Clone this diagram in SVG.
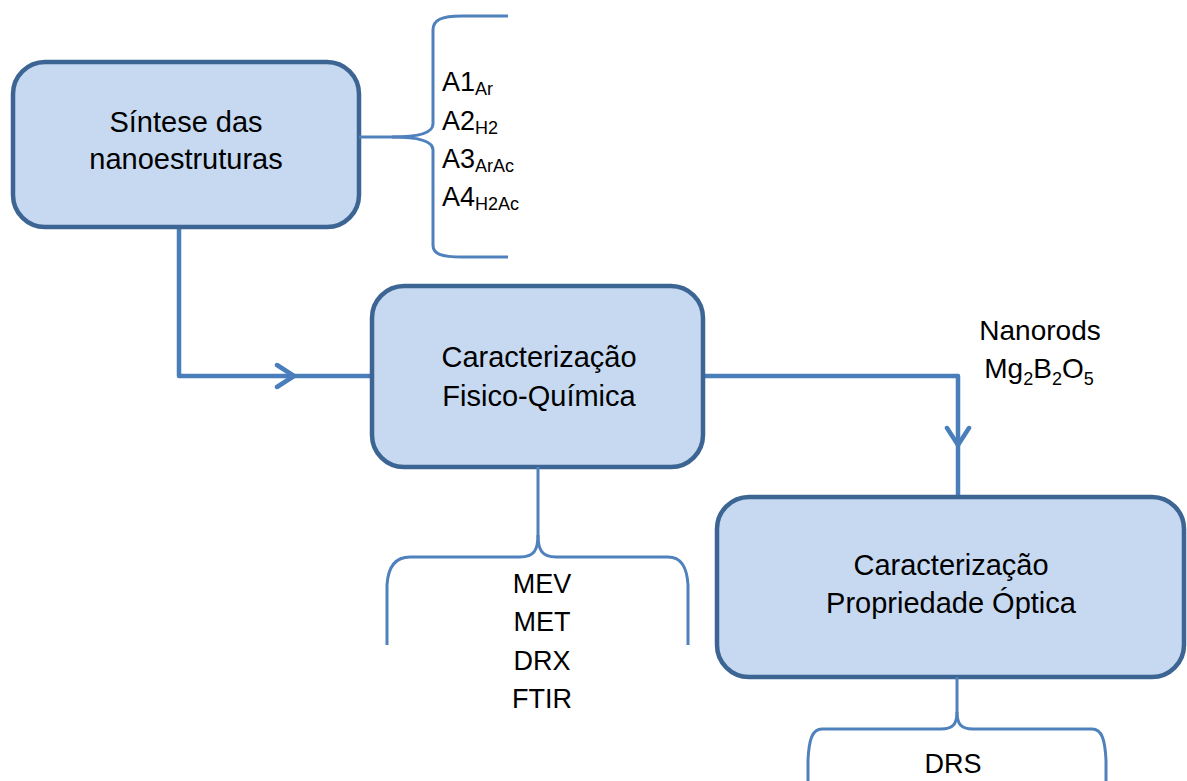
<svg xmlns="http://www.w3.org/2000/svg" width="1187" height="781" viewBox="0 0 1187 781">
<style>
.box{fill:#C6D9F1;stroke:#3D6593;stroke-width:4.5}
.conn{fill:none;stroke:#4A7EBB;stroke-width:4.5;stroke-linejoin:round}
.brace{fill:none;stroke:#4F81BD;stroke-width:3}
text{font-family:"Liberation Sans",Arial,sans-serif;fill:#000}
.t{font-size:29px;text-anchor:middle}
.l{font-size:27px}
.c{font-size:27px;text-anchor:middle}
.s{font-size:18px}
</style>
<defs>
<marker id="chev" markerUnits="userSpaceOnUse" viewBox="-22 -14 26 28" refX="0" refY="0" markerWidth="26" markerHeight="28" orient="auto">
<path d="M-17,-11 L0,0 L-17,11" fill="none" stroke="#4A7EBB" stroke-width="4.5" stroke-linecap="round" stroke-linejoin="round"/>
</marker>
</defs>
<rect width="1187" height="781" fill="#fff"/>
<g id="connectors">
<path class="conn" d="M179,227 V376 H294" marker-end="url(#chev)"/>
<path class="conn" d="M294,376 H372"/>
<path class="conn" d="M703,376 H958 V445" marker-end="url(#chev)"/>
<path class="conn" d="M958,445 V497"/>
</g>
<g id="node-sintese">
<rect class="box" x="13" y="62" width="346" height="165" rx="32" ry="32"/>
<text class="t" x="186" y="132">Síntese das</text>
<text class="t" x="186" y="169">nanoestruturas</text>
</g>
<g id="brace-amostras">
<path class="brace" d="M359,137 H392 C418,137 433,133 433,124 V30 C433,20 441,16 462,16 H508"/>
<path class="brace" d="M392,137 C418,137 433,141 433,150 V245 C433,254 441,257 462,257 H508"/>
<text class="l" x="442" y="91">A1<tspan class="s" dy="4">Ar</tspan></text>
<text class="l" x="442" y="130">A2<tspan class="s" dy="4">H2</tspan></text>
<text class="l" x="442" y="168">A3<tspan class="s" dy="4">ArAc</tspan></text>
<text class="l" x="442" y="206">A4<tspan class="s" dy="4">H2Ac</tspan></text>
</g>
<g id="node-fisico">
<rect class="box" x="372" y="286" width="331" height="181" rx="32" ry="32"/>
<text class="t" x="539" y="367">Caracterização</text>
<text class="t" x="539" y="406">Fisico-Química</text>
</g>
<g id="brace-fisico">
<path class="brace" d="M538,467 V535 C538,550 534,557 520,557 H410 C395,557 388,568 387,585 V645"/>
<path class="brace" d="M538,535 C538,550 542,557 556,557 H668 C682,557 687,568 688,585 V645"/>
<text class="c" x="542" y="593">MEV</text>
<text class="c" x="542" y="631">MET</text>
<text class="c" x="542" y="670">DRX</text>
<text class="c" x="542" y="708">FTIR</text>
</g>
<g id="label-nanorods">
<text class="c" x="1040" y="340" style="font-size:28px">Nanorods</text>
<text class="c" x="1039" y="378" style="font-size:28px">Mg<tspan class="s" dy="7">2</tspan><tspan dy="-7">B</tspan><tspan class="s" dy="7">2</tspan><tspan dy="-7">O</tspan><tspan class="s" dy="7">5</tspan></text>
</g>
<g id="node-optica">
<rect class="box" x="717" y="497" width="467" height="180" rx="32" ry="32"/>
<text class="t" x="951" y="575">Caracterização</text>
<text class="t" x="951" y="613">Propriedade Óptica</text>
</g>
<g id="brace-optica">
<path class="brace" d="M957,677 V712 C957,724 953,729 941,729 H822 C812,729 809,740 808,760 V781"/>
<path class="brace" d="M957,712 C957,724 961,729 973,729 H1092 C1102,729 1105,740 1106,760 V781"/>
<text class="c" x="953" y="773">DRS</text>
</g>
</svg>
